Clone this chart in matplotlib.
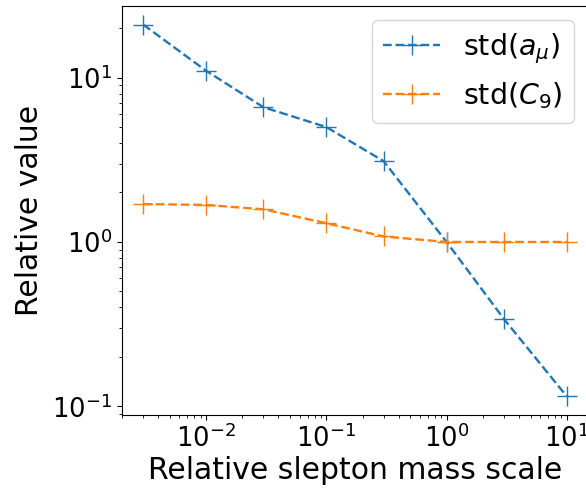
import numpy as np
import matplotlib
matplotlib.use("Agg")
from matplotlib import pyplot as plt

# relative slepton mass scale
scale = [0.003, 0.01, 0.03, 0.1, 0.3, 1.0, 3.0, 10.0]
# relative std values
std_amu = [21.0, 11.0, 6.6, 5.0, 3.1, 1.0, 0.34, 0.115]
std_c9 = [1.70, 1.68, 1.58, 1.30, 1.08, 1.00, 1.00, 1.00]

fig = plt.figure(figsize=(5.86, 4.90), dpi=100)
ax = fig.add_axes([122 / 586, 75 / 490, 466 / 586, 409 / 490])

ax.plot(scale, std_amu, "--+", color="tab:blue", markersize=14, lw=1.7, label=r"std($a_\mu$)")
ax.plot(scale, std_c9, "--+", color="tab:orange", markersize=14, lw=1.7, label=r"std($C_9$)")
ax.set_xscale("log")
ax.set_yscale("log")

ax.set_xlabel("Relative slepton mass scale", fontsize=21.5, labelpad=2)
ax.set_ylabel("Relative value", fontsize=21.5, labelpad=6)
ax.tick_params(labelsize=18.5)
ax.legend(fontsize=20.5, loc="upper right")

fig.savefig("out.png", dpi=100)
